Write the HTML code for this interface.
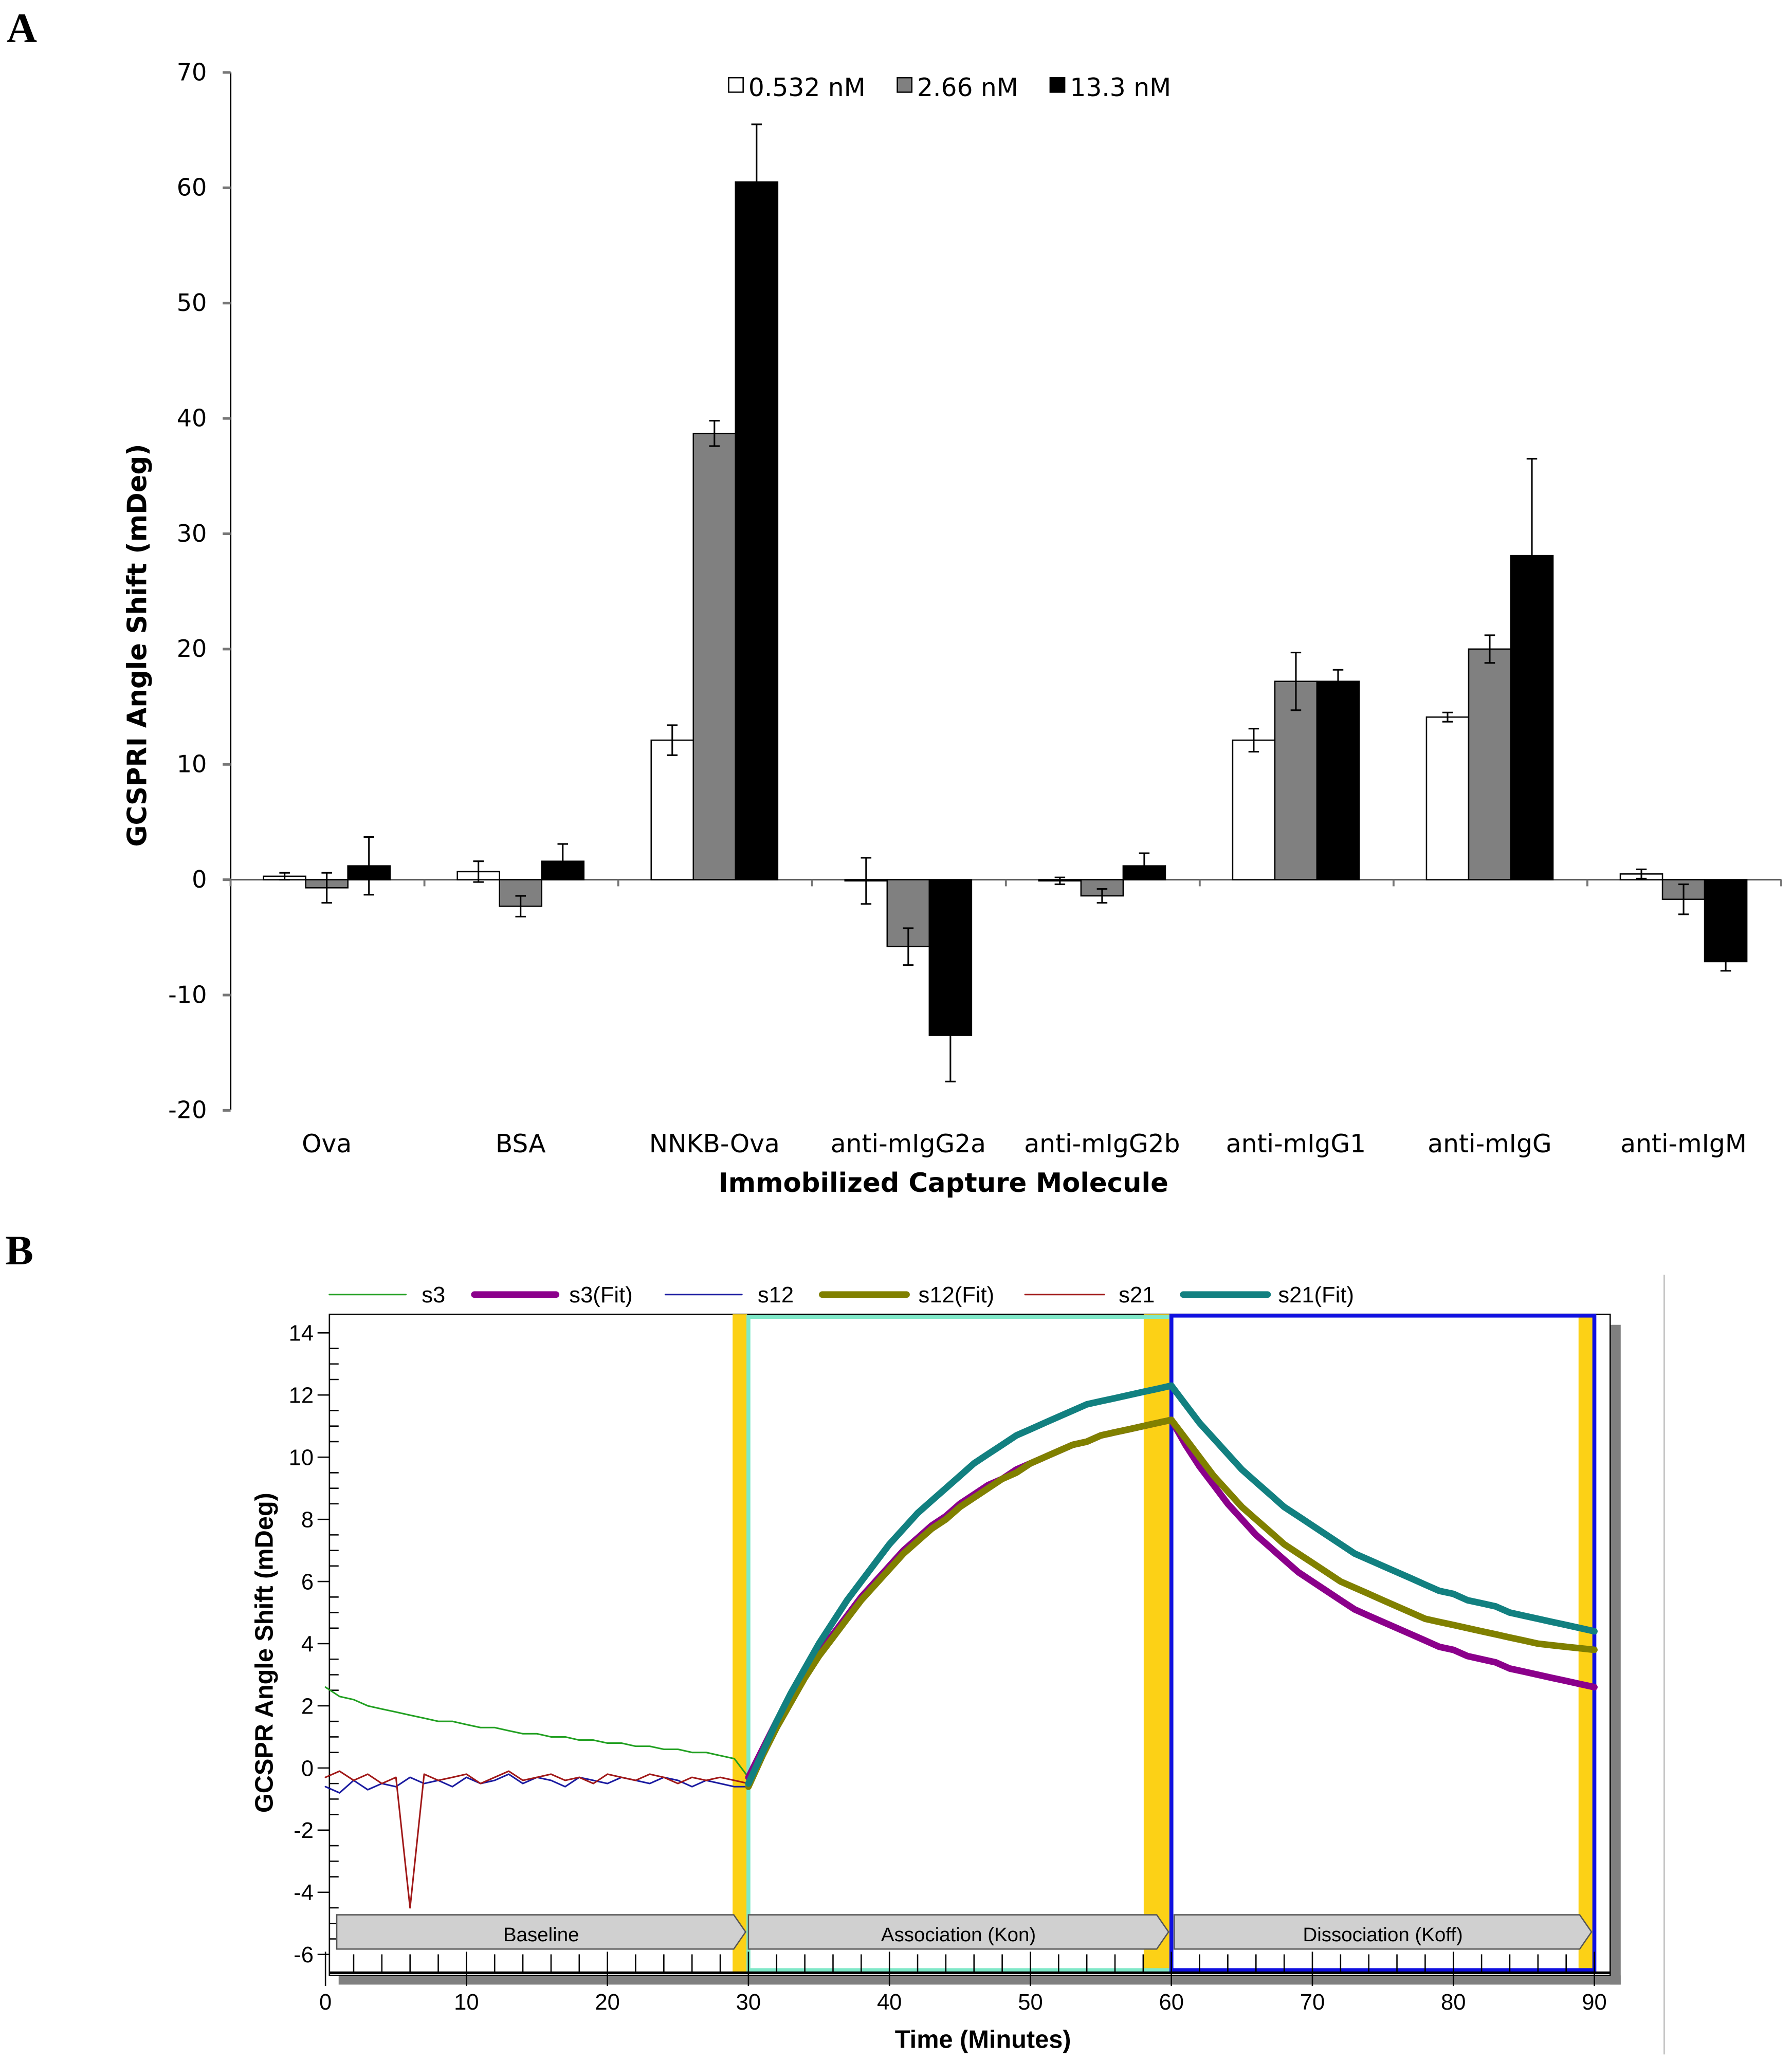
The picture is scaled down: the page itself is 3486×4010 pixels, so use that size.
<!DOCTYPE html>
<html><head><meta charset="utf-8"><style>
html,body{margin:0;padding:0;background:#fff}
svg{display:block}
text{font-family:"Liberation Sans","DejaVu Sans",sans-serif}
#chartA text{font-family:"DejaVu Sans","Liberation Sans",sans-serif}
</style></head><body>
<svg id="fig" xmlns="http://www.w3.org/2000/svg" width="3486" height="4010" viewBox="0 0 1360 1565" preserveAspectRatio="none">
<rect width="1360" height="1565" fill="#fff"/>
<text x="5" y="32" font-weight="bold" font-size="32" style="font-family:'Liberation Serif',serif">A</text>
<text x="4" y="960" font-weight="bold" font-size="32" style="font-family:'Liberation Serif',serif">B</text>
<g id="chartA"></g>
<g id="chartB"></g>
</svg>
<script>
// ---------- Panel A data ----------
const categories = ["Ova","BSA","NNKB-Ova","anti-mIgG2a","anti-mIgG2b","anti-mIgG1","anti-mIgG","anti-mIgM"];
const seriesNames = ["0.532 nM","2.66 nM","13.3 nM"];
const vLow = [0.3, 0.7, 12.1, -0.1, -0.1, 12.1, 14.1, 0.5];
const vMid = [-0.7, -2.3, 38.7, -5.8, -1.4, 17.2, 20.0, -1.7];
const vHigh = [1.2, 1.6, 60.5, -13.5, 1.2, 17.2, 28.1, -7.1];
const eLow = [0.3, 0.9, 1.3, 2.0, 0.3, 1.0, 0.4, 0.4];
const eMid = [1.3, 0.9, 1.1, 1.6, 0.6, 2.5, 1.2, 1.3];
const eHigh = [2.5, 1.5, 5.0, 4.0, 1.1, 1.0, 8.4, 0.8];
const yTicksA = [-20,-10,0,10,20,30,40,50,60,70];

// ---------- Panel B data ----------
const times = [];for(let i=0;i<=90;i++)times.push(i);
const s3 = [2.6,2.3,2.2,2.0,1.9,1.8,1.7,1.6,1.5,1.5,1.4,1.3,1.3,1.2,1.1,1.1,1.0,1.0,0.9,0.9,0.8,0.8,0.7,0.7,0.6,0.6,0.5,0.5,0.4,0.3,
 -0.3,0.6,1.5,2.3,3.0,3.7,4.3,4.9,5.5,6.0,6.5,7.0,7.4,7.8,8.1,8.5,8.8,9.1,9.3,9.6,9.8,10.0,10.2,10.4,10.5,10.7,10.8,10.9,11.0,11.1,11.2,
 10.4,9.7,9.1,8.5,8.0,7.5,7.1,6.7,6.3,6.0,5.7,5.4,5.1,4.9,4.7,4.5,4.3,4.1,3.9,3.8,3.6,3.5,3.4,3.2,3.1,3.0,2.9,2.8,2.7,2.6];
const s12 = [-0.6,-0.8,-0.4,-0.7,-0.5,-0.6,-0.3,-0.5,-0.4,-0.6,-0.3,-0.5,-0.4,-0.2,-0.5,-0.3,-0.4,-0.6,-0.3,-0.4,-0.5,-0.3,-0.4,-0.5,-0.3,-0.4,-0.6,-0.4,-0.5,-0.6,
 -0.6,0.4,1.3,2.1,2.9,3.6,4.2,4.8,5.4,5.9,6.4,6.9,7.3,7.7,8.0,8.4,8.7,9.0,9.3,9.5,9.8,10.0,10.2,10.4,10.5,10.7,10.8,10.9,11.0,11.1,11.2,
 10.6,10.0,9.4,8.9,8.4,8.0,7.6,7.2,6.9,6.6,6.3,6.0,5.8,5.6,5.4,5.2,5.0,4.8,4.7,4.6,4.5,4.4,4.3,4.2,4.1,4.0,3.95,3.9,3.85,3.8];
const s21 = [-0.3,-0.1,-0.4,-0.2,-0.5,-0.3,-4.5,-0.2,-0.4,-0.3,-0.2,-0.5,-0.3,-0.1,-0.4,-0.3,-0.2,-0.4,-0.3,-0.5,-0.2,-0.3,-0.4,-0.2,-0.3,-0.5,-0.3,-0.4,-0.3,-0.4,
 -0.5,0.5,1.5,2.4,3.2,4.0,4.7,5.4,6.0,6.6,7.2,7.7,8.2,8.6,9.0,9.4,9.8,10.1,10.4,10.7,10.9,11.1,11.3,11.5,11.7,11.8,11.9,12.0,12.1,12.2,12.3,
 11.7,11.1,10.6,10.1,9.6,9.2,8.8,8.4,8.1,7.8,7.5,7.2,6.9,6.7,6.5,6.3,6.1,5.9,5.7,5.6,5.4,5.3,5.2,5.0,4.9,4.8,4.7,4.6,4.5,4.4];
const fitStart = 30;
const xTicksB = [0,10,20,30,40,50,60,70,80,90];
const yTicksB = [-6,-4,-2,0,2,4,6,8,10,12,14];

const NS="http://www.w3.org/2000/svg";
function mk(parent,tag,attrs,txt){const e=document.createElementNS(NS,tag);for(const k in attrs)e.setAttribute(k,attrs[k]);if(txt!==undefined)e.textContent=txt;parent.appendChild(e);return e;}

// ---------- Panel A ----------
(function(){
 const g=document.getElementById('chartA');
 const y=v=>668-v*8.757;
 const cx=i=>248+i*147.1;
 let ax=mk(g,'line',{x1:175,y1:55,x2:175,y2:843,stroke:'#000','stroke-width':1.2});
 
 let xl=mk(g,'line',{x1:175,y1:668,x2:1352,y2:668,stroke:'#555','stroke-width':1.2});
 
 for(let i=0;i<=8;i++){mk(g,'line',{x1:175+i*147.1,y1:668,x2:175+i*147.1,y2:673,stroke:'#777','stroke-width':1.5});}
 yTicksA.forEach(t=>{
  mk(g,'line',{x1:169,y1:y(t),x2:175,y2:y(t),stroke:'#777','stroke-width':2});
  const tl=mk(g,'text',{x:157,y:y(t)+6,'text-anchor':'end','font-size':18},t);
  
 });
 const vals=[vLow,vMid,vHigh],errs=[eLow,eMid,eHigh],fills=['#fff','#808080','#000'];
 const offs=[-48,-16,16];
 categories.forEach((c,i)=>{
  for(let s=0;s<3;s++){
   const v=vals[s][i],x0=cx(i)+offs[s];
   const r=mk(g,'rect',{x:x0,y:Math.min(y(0),y(v)),width:32,height:Math.abs(y(v)-y(0)),fill:fills[s],stroke:'#000','stroke-width':1});
   
   const e=errs[s][i],mx=x0+16,tip=v>=0?v+e:v-e,low=v>=0?v-e:v+e;
   mk(g,'line',{x1:mx,y1:y(low),x2:mx,y2:y(tip),stroke:'#000','stroke-width':1.2});
   mk(g,'line',{x1:mx-4,y1:y(tip),x2:mx+4,y2:y(tip),stroke:'#000','stroke-width':1.2});
   mk(g,'line',{x1:mx-4,y1:y(low),x2:mx+4,y2:y(low),stroke:'#000','stroke-width':1.2});
  }
  const t=mk(g,'text',{x:cx(i),y:875,'text-anchor':'middle','font-size':19},c);
  
 });
 const xt=mk(g,'text',{x:716,y:905,'text-anchor':'middle','font-size':20,'font-weight':'bold'},'Immobilized Capture Molecule');
 
 const yt=mk(g,'text',{x:0,y:0,'text-anchor':'middle','font-size':20,'font-weight':'bold',transform:'translate(111,490) rotate(-90)'},'GCSPRI Angle Shift (mDeg)');
 
 const lx=[553,681,797];
 seriesNames.forEach((n,s)=>{
  const le=mk(g,'g',{});
  
  mk(le,'rect',{x:lx[s],y:59,width:11,height:11,fill:fills[s],stroke:'#000','stroke-width':1});
  mk(le,'text',{x:lx[s]+15,y:73,'font-size':19},n);
 });
})();

// ---------- Panel B ----------
(function(){
 const g=document.getElementById('chartB');
 const X=t=>247+t*10.7;
 const Y=v=>1342.5-v*23.6;
 mk(g,'rect',{x:257,y:1500,width:973,height:7,fill:'#808080'});
 mk(g,'rect',{x:1222,y:1006,width:8,height:501,fill:'#808080'});
 mk(g,'rect',{x:250,y:998,width:972,height:502,fill:'#fff',stroke:'#000','stroke-width':1});
 mk(g,'line',{x1:1263,y1:968,x2:1263,y2:1560,stroke:'#bbb','stroke-width':1});
 const yb=[[556,567],[868,890],[1198,1209]];
 yb.forEach(b=>{const r=mk(g,'rect',{x:b[0],y:998,width:b[1]-b[0],height:500,fill:'#fcd116'});});
 mk(g,'rect',{x:X(30),y:1000,width:X(60)-X(30),height:496,fill:'none',stroke:'#7fe8c8','stroke-width':3});
 const blue=mk(g,'rect',{x:X(60),y:999,width:X(90)-X(60),height:497,fill:'none',stroke:'#1010e0','stroke-width':3});
 
 mk(g,'line',{x1:250,y1:998,x2:250,y2:1500,stroke:'#000','stroke-width':1});
 mk(g,'line',{x1:250,y1:1498,x2:1222,y2:1498,stroke:'#000','stroke-width':2});
 for(let v=-6;v<=14;v+=0.5){const maj=(v%2===0);mk(g,'line',{x1:maj?241:250,y1:Y(v),x2:maj?250:257,y2:Y(v),stroke:'#000','stroke-width':1});}
 yTicksB.forEach(t=>{const l=mk(g,'text',{x:238,y:Y(t)+6,'text-anchor':'end','font-size':17},t);});
 for(let t=0;t<=90;t++){if(t%10===0)mk(g,'line',{x1:X(t),y1:1482,x2:X(t),y2:1508,stroke:'#000','stroke-width':1});else if(t%2===0)mk(g,'line',{x1:X(t),y1:1484,x2:X(t),y2:1498,stroke:'#000','stroke-width':1});}
 xTicksB.forEach(t=>{const l=mk(g,'text',{x:X(t),y:1526,'text-anchor':'middle','font-size':17},t);});
 const line=(ts,vs,col,w,name)=>{const p=ts.map((t,i)=>(i?'L':'M')+X(t).toFixed(1)+','+Y(vs[i]).toFixed(1)).join('');const e=mk(g,'path',{d:p,fill:'none',stroke:col,'stroke-width':w,'stroke-linejoin':'round','stroke-linecap':'round'});};
 const ft=times.slice(fitStart);
 line(times,s3,'#22a022',1.2,'line-s3');
 line(ft,s3.slice(fitStart),'#8b008b',5,'line-s3-fit');
 line(times,s12,'#1a1aa0',1.2,'line-s12');
 line(ft,s12.slice(fitStart),'#808000',5,'line-s12-fit');
 line(times,s21,'#a01818',1.2,'line-s21');
 line(ft,s21.slice(fitStart),'#128080',5,'line-s21-fit');
 const ph=[[0.8,29.8,'Baseline'],[30,59.8,'Association (Kon)'],[60.2,89.8,'Dissociation (Koff)']];
 ph.forEach(p=>{const x0=X(p[0]),x1=X(p[1]);const a=mk(g,'g',{});
  mk(a,'path',{d:`M${x0},1454L${x1-9},1454L${x1},1467L${x1-9},1480L${x0},1480Z`,fill:'#d0d0d0',stroke:'#555','stroke-width':1});
  mk(a,'text',{x:(x0+x1)/2,y:1474,'text-anchor':'middle','font-size':15},p[2]);});
 const leg=[[250,308,'#22a022',1.2,'s3',320],[360,422,'#8b008b',5,'s3(Fit)',432],[505,563,'#1a1aa0',1.2,'s12',575],[624,688,'#808000',5,'s12(Fit)',697],[778,838,'#a01818',1.2,'s21',849],[898,962,'#128080',5,'s21(Fit)',970]];
 leg.forEach(l=>{const e=mk(g,'g',{});
  mk(e,'line',{x1:l[0],y1:983,x2:l[1],y2:983,stroke:l[2],'stroke-width':l[3],'stroke-linecap':'round'});
  mk(e,'text',{x:l[5],y:989,'font-size':17},l[4]);});
 const xt=mk(g,'text',{x:746,y:1555,'text-anchor':'middle','font-size':19,'font-weight':'bold'},'Time (Minutes)');
 
 const yt=mk(g,'text',{x:0,y:0,'text-anchor':'middle','font-size':19,'font-weight':'bold',transform:'translate(207,1255) rotate(-90)'},'GCSPR Angle Shift (mDeg)');
 
})();
</script>
</body></html>
